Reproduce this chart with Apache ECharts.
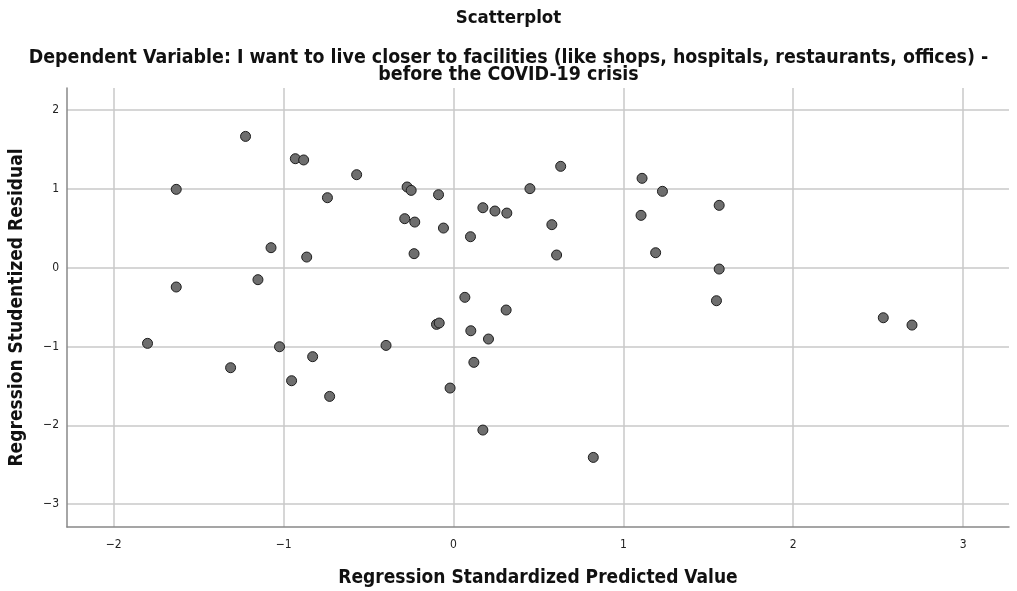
<!DOCTYPE html>
<html>
<head>
<meta charset="utf-8">
<script src="https://cdn.jsdelivr.net/npm/echarts@6/dist/echarts.min.js"></script>
<style>html,body{margin:0;padding:0;background:#fff}#c{width:1017px;height:591px}</style>
</head>
<body>
<div id="c"></div>
<script>
const predicted = [-1.224,-0.931,-0.882,-0.570,-1.632,-0.742,-1.074,-0.864,-1.151,-1.632,
  -0.273,-0.249,-0.088,0.631,0.450,0.173,0.244,0.314,-0.287,-0.228,
  -0.059,0.100,0.579,-0.232,0.607,1.110,1.230,1.564,1.104,1.190,
  1.564,1.548,0.067,0.310,-0.100,-0.084,0.102,0.206,-0.397,0.120,
  -0.020,0.173,0.823,-1.801,-1.024,-0.829,-1.312,-0.953,-0.729,2.530,2.699];
const residual = [1.666,1.383,1.367,1.180,0.994,0.888,0.254,0.135,-0.152,-0.245,
  1.024,0.981,0.926,1.286,1.003,0.761,0.719,0.693,0.622,0.579,
  0.503,0.393,0.546,0.178,0.161,1.134,0.969,0.791,0.664,0.190,
  -0.017,-0.419,-0.376,-0.537,-0.719,-0.702,-0.800,-0.905,-0.986,-1.201,
  -1.527,-2.060,-2.407,-0.960,-1.003,-1.129,-1.269,-1.434,-1.633,-0.635,-0.728];
const xTicks = [-2,-1,0,1,2,3];
const yTicks = [-3,-2,-1,0,1,2];
const titleText = 'Scatterplot';
const subLine1 = 'Dependent Variable: I want to live closer to facilities (like shops, hospitals, restaurants, offices) -';
const subLine2 = 'before the COVID-19 crisis';
const xName = 'Regression Standardized Predicted Value';
const yName = 'Regression Studentized Residual';

const pts = predicted.map((x,i)=>[x,residual[i]]);
const FONT = '"DejaVu Sans Condensed", "DejaVu Sans", sans-serif';
const tStyle = {fontFamily:FONT, fontSize:18.5, fontWeight:'bold', color:'#111'};
const sStyle = {fontFamily:FONT, fontSize:19.4, fontWeight:'bold', color:'#111'};
const fmt = v => String(v).replace('-', '\u2212');
const chart = echarts.init(document.getElementById('c'), null, {renderer:'canvas'});
chart.setOption({
  animation:false,
  backgroundColor:'#fff',
  title:[
    {text:titleText, left:'center', top:9, padding:0, textStyle:tStyle},
    {text:subLine1, left:'center', top:48.5, padding:0, textStyle:sStyle},
    {text:subLine2, left:'center', top:65, padding:0, textStyle:sStyle}
  ],
  grid:{left:67, right:8, top:88, bottom:64, containLabel:false, outerBoundsMode:'none'},
  xAxis:{
    type:'value', min:-2.275, max:3.27,
    name:xName, nameLocation:'middle', nameGap:42,
    nameTextStyle:{fontFamily:FONT, fontSize:19, fontWeight:'bold', color:'#111'},
    axisLine:{show:true, onZero:false, lineStyle:{color:'#888', width:1.5}},
    axisTick:{show:false, customValues:xTicks},
    axisLabel:{customValues:xTicks, formatter:fmt, fontFamily:FONT, fontSize:12, color:'#222', margin:12},
    splitLine:{show:true, lineStyle:{color:'#c8c8c8', width:1.5}}
  },
  yAxis:{
    type:'value', min:-3.29, max:2.28,
    name:yName, nameLocation:'middle', nameGap:40, nameRotate:90,
    nameTextStyle:{fontFamily:FONT, fontSize:19, fontWeight:'bold', color:'#111'},
    axisLine:{show:true, onZero:false, lineStyle:{color:'#888', width:1.5}},
    axisTick:{show:false, customValues:yTicks},
    axisLabel:{customValues:yTicks, formatter:fmt, fontFamily:FONT, fontSize:12, color:'#222', margin:8},
    splitLine:{show:true, lineStyle:{color:'#c8c8c8', width:1.5}}
  },
  series:[{
    type:'scatter', data:pts, symbol:'circle', symbolSize:10,
    itemStyle:{color:'#6e6e6e', borderColor:'#1e1e1e', borderWidth:1, opacity:1},
    emphasis:{disabled:true}
  }]
});
</script>
</body>
</html>
